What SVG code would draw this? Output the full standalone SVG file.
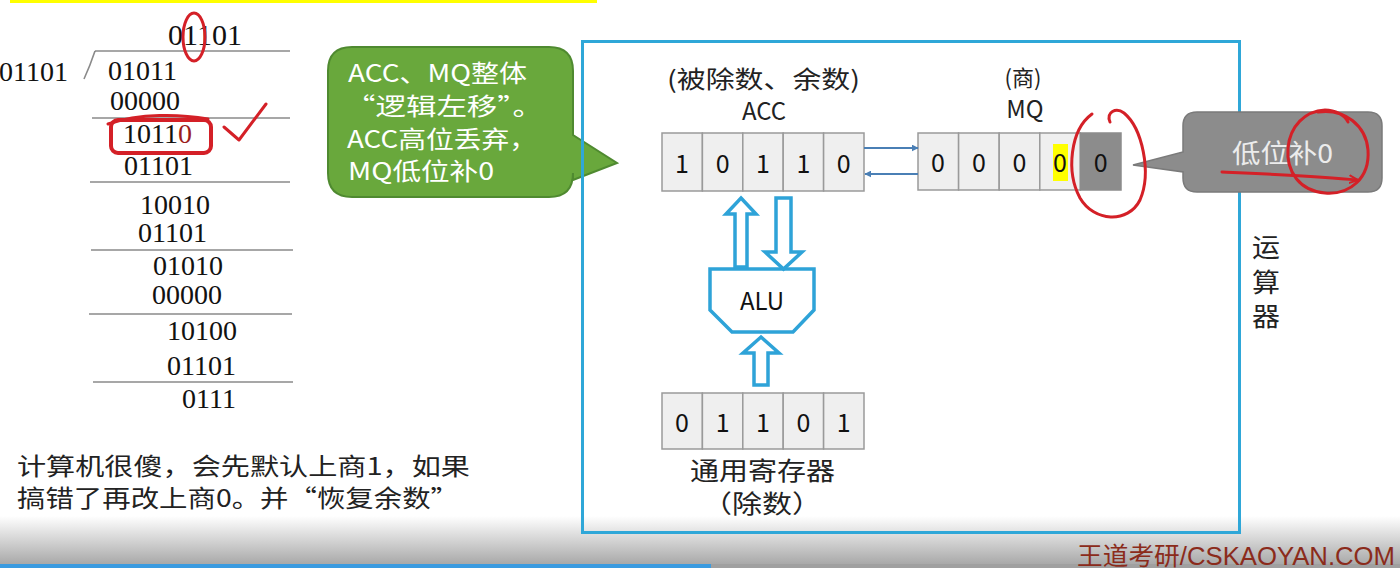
<svg xmlns="http://www.w3.org/2000/svg" width="1400" height="568" viewBox="0 0 1400 568">
<defs>
<linearGradient id="bot" x1="0" y1="0" x2="0" y2="1">
<stop offset="0" stop-color="#ffffff"/>
<stop offset="1" stop-color="#a9a9a9"/>
</linearGradient>
<marker id="ah" viewBox="0 0 10 10" refX="9" refY="5" markerWidth="7" markerHeight="7" markerUnits="userSpaceOnUse" orient="auto">
<path d="M0,0 L10,5 L0,10 z" fill="#4a7fb5"/>
</marker>
<marker id="rah" viewBox="0 0 10 10" refX="8" refY="5" markerWidth="10" markerHeight="10" markerUnits="userSpaceOnUse" orient="auto">
<path d="M0,1 L9,5 L0,9" fill="none" stroke="#d42027" stroke-width="2"/>
</marker>
</defs>
<style>
.ser{font-family:"Liberation Serif","Times New Roman",serif;font-size:28px;fill:#111}
.cjk{font-family:"Noto Sans CJK SC","Noto Sans",sans-serif;fill:#222}
.cell{fill:#efefef;stroke:#9a9a9a;stroke-width:1.5}
.dig{font-family:"Noto Sans CJK SC","Noto Sans",sans-serif;font-size:25px;fill:#111;text-anchor:middle}
.rule{stroke:#8a8a8a;stroke-width:1.6;fill:none}
.red{stroke:#d42027;stroke-width:3;fill:none;stroke-linecap:round;stroke-linejoin:round}
.bus{fill:#ffffff;stroke:#2ea3d8;stroke-width:3.5;stroke-linejoin:miter}
.thin{stroke:#4a7fb5;stroke-width:2;fill:none}
</style>
<rect width="1400" height="568" fill="#ffffff"/>
<rect x="0" y="516" width="1400" height="48" fill="url(#bot)"/>
<rect x="0" y="564" width="711" height="4" fill="#3b9be0"/>
<rect x="711" y="564" width="689" height="4" fill="#a0a0a0"/>
<rect x="10" y="0" width="587" height="3" fill="#ffff00"/>

<g id="division">
<text class="ser" x="168" y="45" style="font-size:30px">01101</text>
<path class="rule" d="M95,51 L290,51 M95,51 Q90,66 84,79"/>
<text class="ser" x="-1" y="81">01101</text>
<text class="ser" x="108" y="80">01011</text>
<text class="ser" x="110" y="110">00000</text>
<line class="rule" x1="92" y1="118" x2="290" y2="118"/>
<text class="ser" x="123" y="143">1011<tspan fill="#9b1c1c">0</tspan></text>
<text class="ser" x="124" y="175">01101</text>
<line class="rule" x1="90" y1="182" x2="290" y2="182"/>
<text class="ser" x="140" y="214">10010</text>
<text class="ser" x="138" y="242">01101</text>
<line class="rule" x1="91" y1="250" x2="293" y2="250"/>
<text class="ser" x="153" y="275">01010</text>
<text class="ser" x="152" y="304">00000</text>
<line class="rule" x1="89" y1="314" x2="292" y2="314"/>
<text class="ser" x="167" y="340">10100</text>
<text class="ser" x="167" y="375">01101</text>
<line class="rule" x1="93" y1="382" x2="293" y2="382"/>
<text class="ser" x="182" y="408">0111</text>
</g>

<g id="annotations-left">
<ellipse class="red" cx="194" cy="37" rx="11" ry="24"/>
<rect class="red" x="111" y="120" width="100" height="33" rx="7" style="stroke-width:4"/>
<path class="red" d="M108,124 C140,113 180,114 208,119" style="stroke-width:3"/>
<path class="red" d="M224,127 L239,140 L266,104"/>
</g>

<g id="note-left" class="cjk" style="font-size:24px">
<text x="17" y="475" textLength="453" lengthAdjust="spacingAndGlyphs">计算机很傻，会先默认上商1，如果</text>
<text x="17" y="507" textLength="442" lengthAdjust="spacingAndGlyphs">搞错了再改上商0。并“恢复余数”</text>
</g>

<g id="callout-green">
<path d="M352,47 L549,47 Q573,47 573,71 L573,135 L617,163 L573,180 L573,173 Q573,197 549,197 L352,197 Q328,197 328,173 L328,71 Q328,47 352,47 Z" fill="#69a83c" stroke="#4f8a30" stroke-width="2"/>
<g class="cjk" style="font-size:24px;fill:#ffffff">
<text x="348" y="82" textLength="179" lengthAdjust="spacingAndGlyphs">ACC、MQ整体</text>
<text x="345" y="115" textLength="198" lengthAdjust="spacingAndGlyphs">“逻辑左移”。</text>
<text x="347" y="148" textLength="190" lengthAdjust="spacingAndGlyphs">ACC高位丢弃，</text>
<text x="348" y="180" textLength="146" lengthAdjust="spacingAndGlyphs">MQ低位补0</text>
</g>
</g>

<g id="alu-frame">
<rect x="582.5" y="41.5" width="657" height="491" fill="none" stroke="#2fa7d8" stroke-width="3"/>
<text class="cjk" x="1252" y="257" style="font-size:26px" textLength="28" lengthAdjust="spacingAndGlyphs">运</text>
<text class="cjk" x="1252" y="292" style="font-size:26px" textLength="28" lengthAdjust="spacingAndGlyphs">算</text>
<text class="cjk" x="1252" y="326" style="font-size:26px" textLength="28" lengthAdjust="spacingAndGlyphs">器</text>
</g>

<g id="acc">
<text class="cjk" x="667" y="88" style="font-size:24px" textLength="193" lengthAdjust="spacingAndGlyphs">(被除数、余数)</text>
<text class="cjk" x="764" y="120" text-anchor="middle" style="font-size:24px">ACC</text>
<rect class="cell" x="662" y="133" width="40.4" height="58"/>
<rect class="cell" x="702.4" y="133" width="40.4" height="58"/>
<rect class="cell" x="742.8" y="133" width="40.4" height="58"/>
<rect class="cell" x="783.2" y="133" width="40.4" height="58"/>
<rect class="cell" x="823.6" y="133" width="40.4" height="58"/>
<text class="dig" x="682" y="173">1</text>
<text class="dig" x="722.6" y="173">0</text>
<text class="dig" x="763" y="173">1</text>
<text class="dig" x="803.4" y="173">1</text>
<text class="dig" x="843.8" y="173">0</text>
</g>

<g id="mq">
<text class="cjk" x="1023" y="86" text-anchor="middle" style="font-size:22px">(商)</text>
<text class="cjk" x="1025" y="118" text-anchor="middle" style="font-size:24px">MQ</text>
<rect class="cell" x="918" y="133" width="40.6" height="57"/>
<rect class="cell" x="958.6" y="133" width="40.6" height="57"/>
<rect class="cell" x="999.2" y="133" width="40.6" height="57"/>
<rect class="cell" x="1039.8" y="133" width="40.6" height="57"/>
<rect x="1080.4" y="133" width="40.6" height="57" fill="#8c8c8c" stroke="#8c8c8c" stroke-width="1.5"/>
<rect x="1053" y="144" width="15" height="37" fill="#ffff00"/>
<text class="dig" x="938" y="172">0</text>
<text class="dig" x="979" y="172">0</text>
<text class="dig" x="1019.5" y="172">0</text>
<text class="dig" x="1060" y="172">0</text>
<text class="dig" x="1100.7" y="172">0</text>
</g>

<g id="callout-gray">
<path d="M1197,112 L1368,112 Q1382,112 1382,126 L1382,178 Q1382,192 1368,192 L1197,192 Q1183,192 1183,178 L1183,172 L1133,165 L1183,152 L1183,126 Q1183,112 1197,112 Z" fill="#8c8c8c" stroke="#7a7a7a" stroke-width="1.5"/>
<text class="cjk" x="1232" y="163" style="font-size:26px;fill:#ececec" textLength="101" lengthAdjust="spacingAndGlyphs">低位补0</text>
</g>

<g id="alu">
<polygon class="bus" points="710,269 814,269 814,310 793,332 732,332 710,310"/>
<text class="cjk" x="762" y="310" text-anchor="middle" style="font-size:24px;fill:#111">ALU</text>
</g>

<g id="gpr">
<rect class="cell" x="662" y="393" width="40.4" height="56"/>
<rect class="cell" x="702.4" y="393" width="40.4" height="56"/>
<rect class="cell" x="742.8" y="393" width="40.4" height="56"/>
<rect class="cell" x="783.2" y="393" width="40.4" height="56"/>
<rect class="cell" x="823.6" y="393" width="40.4" height="56"/>
<text class="dig" x="682" y="432">0</text>
<text class="dig" x="722.6" y="432">1</text>
<text class="dig" x="763" y="432">1</text>
<text class="dig" x="803.4" y="432">0</text>
<text class="dig" x="843.8" y="432">1</text>
<text class="cjk" x="690" y="480" style="font-size:25px" textLength="145" lengthAdjust="spacingAndGlyphs">通用寄存器</text>
<text class="cjk" x="702" y="513" style="font-size:25px" textLength="120" lengthAdjust="spacingAndGlyphs">（除数）</text>
</g>

<g id="connectors">
<line class="thin" x1="864" y1="148" x2="918" y2="148" marker-end="url(#ah)"/>
<line class="thin" x1="918" y1="174" x2="865" y2="174" marker-end="url(#ah)"/>
<polygon class="bus" points="741,198 756,214 747,214 747,267 735,267 735,214 726,214"/>
<polygon class="bus" points="776,198 791,198 791,252 802,252 783.5,269 765,252 776,252"/>
<polygon class="bus" points="761,337 779,353 768,353 768,385 754,385 754,353 743,353"/>
</g>

<g id="annotations-right">
<path class="red" d="M1110,122 C1106,112 1116,107 1124,113 C1142,128 1152,172 1140,200 C1128,224 1094,222 1080,198 C1066,172 1070,130 1092,114"/>
<path class="red" d="M1318,112 C1345,108 1366,126 1368,150 C1370,178 1350,195 1325,193 C1300,191 1286,172 1288,148 C1290,126 1305,111 1325,110 C1335,110 1345,115 1348,122"/>
<path class="red" d="M1222,172 C1270,174 1320,176 1357,180" marker-end="url(#rah)"/>
</g>

<g id="watermark">
<text x="1077" y="565" style="font-family:'Liberation Sans','Noto Sans CJK SC',sans-serif;font-size:25px;fill:#8b2b1b" textLength="318" lengthAdjust="spacingAndGlyphs">王道考研/CSKAOYAN.COM</text>
</g>
</svg>
